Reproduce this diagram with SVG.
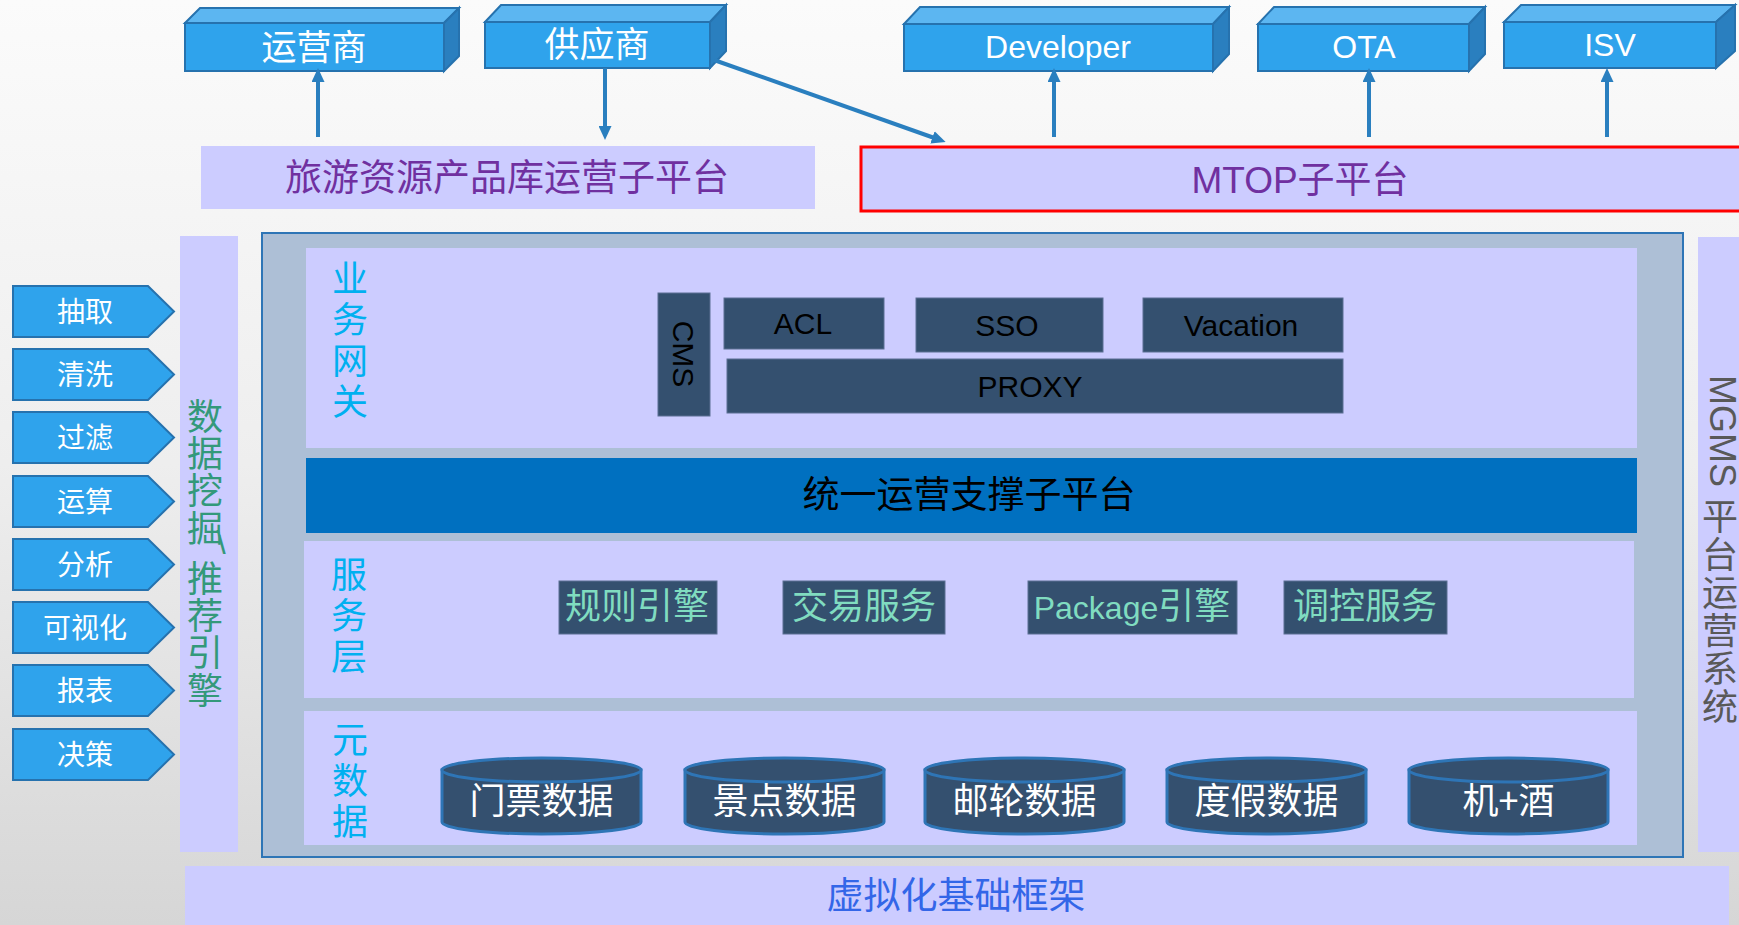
<svg xmlns="http://www.w3.org/2000/svg" width="1739" height="925" viewBox="0 0 1739 925">
<defs>
<linearGradient id="bg" x1="0" y1="0" x2="0" y2="1">
<stop offset="0" stop-color="#fbfbfb"/>
<stop offset="0.5" stop-color="#eeeeee"/>
<stop offset="1" stop-color="#d6d6d6"/>
</linearGradient>
<marker id="ah" viewBox="0 0 14 13" refX="8" refY="6.5" markerWidth="14" markerHeight="13" markerUnits="userSpaceOnUse" orient="auto">
<path d="M0,0 L14,6.5 L0,13 Z" fill="#2A7FBF"/>
</marker>
</defs>
<style>
.front{fill:#2FA3EC;stroke:#2672AE;stroke-width:2}
.top{fill:#5CB6F1;stroke:#2672AE;stroke-width:2}
.side{fill:#2A7FBF;stroke:#2672AE;stroke-width:2}
.wt{fill:#ffffff;font-family:"Noto Sans CJK SC",sans-serif;text-anchor:middle}
.lat{fill:#ffffff;font-family:"Liberation Sans","Noto Sans CJK SC",sans-serif;font-size:32px;text-anchor:middle}
.lav{fill:#CCCCFF}
.conn{stroke:#2A7FBF;stroke-width:4;fill:none;marker-end:url(#ah)}
.pent{fill:#2FA3EC;stroke:#2672AE;stroke-width:2}
.dark{fill:#34506F;stroke:#5B6F93;stroke-width:1}
.bk{fill:#000000;font-family:"Liberation Sans",sans-serif;font-size:30px;text-anchor:middle}
.vt{font-family:"Noto Sans CJK SC",sans-serif;font-size:36px;writing-mode:vertical-rl;text-anchor:start}
.cy{fill:#00B0F0;letter-spacing:5px}
.mint{fill:#80DCC0;font-family:"Liberation Sans","Noto Sans CJK SC",sans-serif;font-size:36px;text-anchor:middle}
.cyl{fill:#34506F;stroke:#2E75B6;stroke-width:3}
</style>
<rect x="0" y="0" width="1739" height="925" fill="url(#bg)"/>

<g id="yunyingshang">
<polygon class="top" points="185,23 200,8 459,8 444,23"/>
<polygon class="side" points="444,23 459,8 459,56 444,71"/>
<rect class="front" x="185" y="23" width="259" height="48"/>
<text class="wt" x="314" y="60" font-size="35">运营商</text>
</g>
<g id="gongyingshang">
<polygon class="top" points="485,22 501,5 726,5 710,22"/>
<polygon class="side" points="710,22 726,5 726,51 710,68"/>
<rect class="front" x="485" y="22" width="225" height="46"/>
<text class="wt" x="597" y="57" font-size="35">供应商</text>
</g>
<g id="developer">
<polygon class="top" points="904,24 920,7 1229,7 1213,24"/>
<polygon class="side" points="1213,24 1229,7 1229,54 1213,71"/>
<rect class="front" x="904" y="24" width="309" height="47"/>
<text class="lat" x="1058" y="58">Developer</text>
</g>
<g id="ota">
<polygon class="top" points="1258,24 1274,7 1485,7 1469,24"/>
<polygon class="side" points="1469,24 1485,7 1485,54 1469,71"/>
<rect class="front" x="1258" y="24" width="211" height="47"/>
<text class="lat" x="1364" y="58">OTA</text>
</g>
<g id="isv">
<polygon class="top" points="1504,22 1521,5 1735,5 1716,22"/>
<polygon class="side" points="1716,22 1735,5 1735,51 1716,68"/>
<rect class="front" x="1504" y="22" width="212" height="46"/>
<text class="lat" x="1610" y="56">ISV</text>
</g>

<g id="lvyou">
<rect class="lav" x="201" y="146" width="614" height="63"/>
<text x="507" y="191" fill="#7030A0" font-family="Noto Sans CJK SC, sans-serif" font-size="37" text-anchor="middle">旅游资源产品库运营子平台</text>
</g>
<g id="mtop">
<rect class="lav" x="861" y="147" width="900" height="64" stroke="#FF0000" stroke-width="3"/>
<text x="1300" y="193" fill="#7030A0" font-family="Liberation Sans, Noto Sans CJK SC, sans-serif" font-size="37" text-anchor="middle">MTOP子平台</text>
</g>

<g id="connectors">
<line class="conn" x1="318" y1="137" x2="318" y2="74"/>
<line class="conn" x1="605" y1="68" x2="605" y2="134"/>
<line class="conn" x1="714" y1="60" x2="940" y2="140"/>
<line class="conn" x1="1054" y1="137" x2="1054" y2="74"/>
<line class="conn" x1="1369" y1="137" x2="1369" y2="74"/>
<line class="conn" x1="1607" y1="137" x2="1607" y2="74"/>
</g>

<g id="steps">
<polygon class="pent" points="13,286 148,286 174,311.5 148,337 13,337"/>
<text class="wt" x="85" y="322" font-size="28">抽取</text>
<polygon class="pent" points="13,349 148,349 174,374.5 148,400 13,400"/>
<text class="wt" x="85" y="385" font-size="28">清洗</text>
<polygon class="pent" points="13,412 148,412 174,437.5 148,463 13,463"/>
<text class="wt" x="85" y="448" font-size="28">过滤</text>
<polygon class="pent" points="13,476 148,476 174,501.5 148,527 13,527"/>
<text class="wt" x="85" y="512" font-size="28">运算</text>
<polygon class="pent" points="13,539 148,539 174,564.5 148,590 13,590"/>
<text class="wt" x="85" y="575" font-size="28">分析</text>
<polygon class="pent" points="13,602 148,602 174,627.5 148,653 13,653"/>
<text class="wt" x="85" y="638" font-size="28">可视化</text>
<polygon class="pent" points="13,665 148,665 174,690.5 148,716 13,716"/>
<text class="wt" x="85" y="701" font-size="28">报表</text>
<polygon class="pent" points="13,729 148,729 174,754.5 148,780 13,780"/>
<text class="wt" x="85" y="765" font-size="28">决策</text>
</g>

<g id="datamining">
<rect class="lav" x="180" y="236" width="58" height="616"/>
<text class="vt" x="205" y="398" fill="#33997A" letter-spacing="1.3">数据挖掘</text>
<text x="221" y="554" fill="#33997A" font-family="Liberation Sans, sans-serif" font-size="33" text-anchor="middle">\</text>
<text class="vt" x="205" y="560" fill="#33997A" letter-spacing="1.3">推荐引擎</text>
</g>

<g id="container">
<rect x="262" y="233" width="1421" height="624" fill="#ADBFD6" stroke="#2E75B6" stroke-width="2"/>
</g>

<g id="gateway">
<rect class="lav" x="306" y="248" width="1331" height="200"/>
<text class="vt cy" x="350" y="260">业务网关</text>
</g>
<g id="cms">
<rect class="dark" x="658" y="293" width="52" height="123"/>
<text class="bk" transform="translate(673,354) rotate(90)">CMS</text>
</g>
<g id="acl">
<rect class="dark" x="724" y="298" width="160" height="51"/>
<text class="bk" x="803" y="334">ACL</text>
</g>
<g id="sso">
<rect class="dark" x="916" y="298" width="187" height="54"/>
<text class="bk" x="1007" y="336">SSO</text>
</g>
<g id="vacation">
<rect class="dark" x="1143" y="298" width="200" height="54"/>
<text class="bk" x="1241" y="336">Vacation</text>
</g>
<g id="proxy">
<rect class="dark" x="727" y="359" width="616" height="54"/>
<text class="bk" x="1030" y="397">PROXY</text>
</g>

<g id="tongyi">
<rect x="306" y="458" width="1331" height="75" fill="#0070C0"/>
<text x="969" y="508" fill="#000000" font-family="Noto Sans CJK SC, sans-serif" font-size="37" text-anchor="middle">统一运营支撑子平台</text>
</g>

<g id="service">
<rect class="lav" x="304" y="541" width="1330" height="157"/>
<text class="vt cy" x="349" y="556" letter-spacing="5.5">服务层</text>
</g>
<g id="rule">
<rect class="dark" x="559" y="581" width="158" height="53"/>
<text class="mint" x="637" y="619">规则引擎</text>
</g>
<g id="trade">
<rect class="dark" x="783" y="581" width="162" height="53"/>
<text class="mint" x="864" y="619">交易服务</text>
</g>
<g id="package">
<rect class="dark" x="1028" y="581" width="209" height="53"/>
<text class="mint" x="1132" y="619"><tspan font-size="32">Package</tspan>引擎</text>
</g>
<g id="control">
<rect class="dark" x="1284" y="581" width="163" height="53"/>
<text class="mint" x="1365" y="619">调控服务</text>
</g>

<g id="metadata">
<rect class="lav" x="304" y="711" width="1333" height="134"/>
<text class="vt cy" x="350" y="721" letter-spacing="5.5">元数据</text>
</g>
<g id="ticket">
<path class="cyl" d="M442,770 L442,822 A99.5,12 0 0 0 641,822 L641,770 Z"/>
<ellipse class="cyl" cx="541.5" cy="770" rx="99.5" ry="12"/>
<text class="wt" x="541.5" y="814" font-size="36">门票数据</text>
</g>
<g id="scenic">
<path class="cyl" d="M685,770 L685,822 A99.5,12 0 0 0 884,822 L884,770 Z"/>
<ellipse class="cyl" cx="784.5" cy="770" rx="99.5" ry="12"/>
<text class="wt" x="784.5" y="814" font-size="36">景点数据</text>
</g>
<g id="cruise">
<path class="cyl" d="M925,770 L925,822 A99.5,12 0 0 0 1124,822 L1124,770 Z"/>
<ellipse class="cyl" cx="1024.5" cy="770" rx="99.5" ry="12"/>
<text class="wt" x="1024.5" y="814" font-size="36">邮轮数据</text>
</g>
<g id="vacationdata">
<path class="cyl" d="M1167,770 L1167,822 A99.5,12 0 0 0 1366,822 L1366,770 Z"/>
<ellipse class="cyl" cx="1266.5" cy="770" rx="99.5" ry="12"/>
<text class="wt" x="1266.5" y="814" font-size="36">度假数据</text>
</g>
<g id="flighthotel">
<path class="cyl" d="M1409,770 L1409,822 A99.5,12 0 0 0 1608,822 L1608,770 Z"/>
<ellipse class="cyl" cx="1508.5" cy="770" rx="99.5" ry="12"/>
<text class="wt" x="1508.5" y="814" font-size="36">机+酒</text>
</g>

<g id="mgms">
<rect class="lav" x="1698" y="237" width="50" height="615"/>
<text transform="translate(1710,375) rotate(90)" fill="#595959" font-family="Liberation Sans, sans-serif" font-size="36">MGMS</text>
<text class="vt" x="1720" y="498" fill="#595959" letter-spacing="2">平台运营系统</text>
</g>

<g id="virtual">
<rect class="lav" x="185" y="866" width="1544" height="70"/>
<text x="956" y="909" fill="#3366E8" font-family="Noto Sans CJK SC, sans-serif" font-size="37" text-anchor="middle">虚拟化基础框架</text>
</g>
</svg>
